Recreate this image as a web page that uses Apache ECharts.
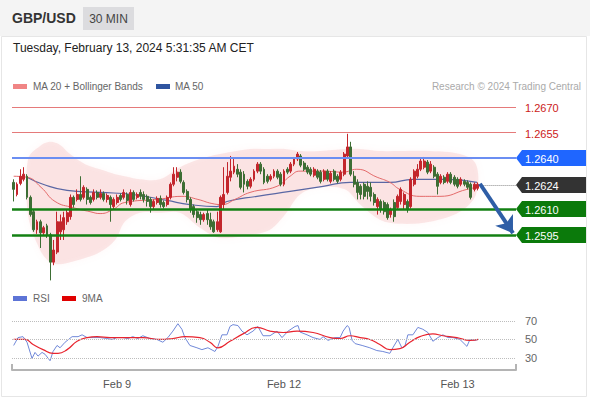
<!DOCTYPE html>
<html><head><meta charset="utf-8">
<script src="https://cdn.jsdelivr.net/npm/echarts@6/dist/echarts.min.js"></script>
<style>html,body{margin:0;padding:0;background:#fff;}#c{width:590px;height:400px;}</style>
</head><body><div id="c"></div>
<script>
// ---------- DATA ----------
const opens = [1.26258,1.26187,1.26252,1.26276,1.26294,1.26170,1.26086,1.25980,1.26027,1.25962,
1.26003,1.25950,1.25790,1.25849,1.25968,1.25980,1.26027,1.26057,1.26170,1.26158,
1.26187,1.26170,1.26217,1.26170,1.26158,1.26199,1.26170,1.26193,1.26158,1.26170,
1.26116,1.26140,1.26181,1.26170,1.26187,1.26128,1.26199,1.26170,1.26199,1.26187,
1.26176,1.26158,1.26116,1.26140,1.26164,1.26140,1.26128,1.26170,1.26247,1.26288,
1.26318,1.26258,1.26205,1.26158,1.26116,1.26086,1.26069,1.26039,1.26075,1.26039,
1.26027,1.25980,1.25968,1.26128,1.26199,1.26288,1.26318,1.26335,1.26318,1.26306,
1.26264,1.26235,1.26276,1.26324,1.26365,1.26335,1.26294,1.26276,1.26294,1.26324,
1.26306,1.26247,1.26335,1.26324,1.26365,1.26395,1.26413,1.26371,1.26347,1.26335,
1.26300,1.26324,1.26318,1.26276,1.26324,1.26264,1.26324,1.26294,1.26276,1.26306,
1.26413,1.26466,1.26294,1.26258,1.26235,1.26247,1.26235,1.26229,1.26187,1.26116,
1.26146,1.26140,1.26128,1.26069,1.26140,1.26110,1.26146,1.26128,1.26146,1.26116,
1.26247,1.26294,1.26335,1.26347,1.26377,1.26324,1.26347,1.26306,1.26258,1.26288,
1.26264,1.26306,1.26288,1.26276,1.26247,1.26264,1.26258,1.26247,1.26217,1.26223];
const closes = [1.26217,1.26247,1.26294,1.26306,1.26170,1.26069,1.25980,1.26027,1.25962,1.25992,
1.25950,1.25790,1.25861,1.26027,1.26027,1.26051,1.26080,1.26170,1.26128,1.26187,
1.26158,1.26229,1.26158,1.26140,1.26199,1.26170,1.26193,1.26158,1.26181,1.26128,
1.26158,1.26170,1.26158,1.26199,1.26152,1.26199,1.26158,1.26187,1.26176,1.26158,
1.26146,1.26116,1.26146,1.26164,1.26128,1.26116,1.26170,1.26247,1.26306,1.26318,
1.26264,1.26199,1.26158,1.26098,1.26069,1.26051,1.26039,1.26069,1.26039,1.25997,
1.25968,1.26027,1.26170,1.26187,1.26294,1.26324,1.26353,1.26306,1.26229,1.26247,
1.26235,1.26276,1.26324,1.26365,1.26324,1.26258,1.26264,1.26294,1.26324,1.26288,
1.26247,1.26324,1.26318,1.26365,1.26395,1.26424,1.26359,1.26335,1.26318,1.26306,
1.26335,1.26288,1.26264,1.26324,1.26276,1.26312,1.26276,1.26264,1.26318,1.26424,
1.26466,1.26306,1.26247,1.26199,1.26187,1.26176,1.26205,1.26176,1.26140,1.26158,
1.26098,1.26086,1.26051,1.26098,1.26057,1.26176,1.26217,1.26187,1.26098,1.26276,
1.26324,1.26335,1.26383,1.26383,1.26318,1.26365,1.26294,1.26235,1.26294,1.26258,
1.26306,1.26258,1.26247,1.26235,1.26276,1.26247,1.26229,1.26170,1.26247,1.26247];
const lows = [1.26146,1.26176,1.26241,1.26264,1.26158,1.26057,1.25968,1.25956,1.25873,1.25944,
1.25932,1.25683,1.25772,1.25837,1.25920,1.25920,1.26009,1.26039,1.26110,1.26146,
1.26146,1.26158,1.26128,1.26128,1.26146,1.26158,1.26158,1.26146,1.26140,1.26027,
1.26098,1.26128,1.26146,1.26158,1.26128,1.26116,1.26146,1.26158,1.26158,1.26140,
1.26116,1.26080,1.26098,1.26128,1.26110,1.26104,1.26116,1.26158,1.26235,1.26264,
1.26252,1.26187,1.26140,1.26080,1.26051,1.26021,1.26009,1.26027,1.26009,1.25980,
1.25962,1.25968,1.25962,1.26098,1.26187,1.26264,1.26306,1.26288,1.26217,1.26199,
1.26217,1.26223,1.26264,1.26312,1.26306,1.26247,1.26252,1.26264,1.26282,1.26276,
1.26235,1.26235,1.26306,1.26312,1.26353,1.26383,1.26347,1.26324,1.26306,1.26294,
1.26288,1.26276,1.26252,1.26264,1.26264,1.26252,1.26264,1.26252,1.26264,1.26294,
1.26401,1.26294,1.26229,1.26158,1.26158,1.26158,1.26158,1.26146,1.26122,1.26069,
1.26080,1.26069,1.26039,1.26051,1.26027,1.26098,1.26128,1.26098,1.26080,1.26104,
1.26235,1.26282,1.26324,1.26335,1.26306,1.26312,1.26282,1.26187,1.26247,1.26247,
1.26252,1.26247,1.26235,1.26223,1.26235,1.26235,1.26217,1.26158,1.26205,1.26211];
const highs = [1.26276,1.26258,1.26335,1.26347,1.26306,1.26181,1.26098,1.26039,1.26039,1.26003,
1.26015,1.25962,1.25920,1.26086,1.26069,1.26086,1.26098,1.26187,1.26181,1.26217,
1.26294,1.26241,1.26229,1.26181,1.26217,1.26211,1.26217,1.26205,1.26193,1.26181,
1.26170,1.26187,1.26193,1.26217,1.26199,1.26217,1.26211,1.26199,1.26217,1.26205,
1.26187,1.26170,1.26158,1.26176,1.26181,1.26152,1.26181,1.26258,1.26347,1.26347,
1.26335,1.26270,1.26217,1.26170,1.26128,1.26098,1.26086,1.26080,1.26098,1.26080,
1.26039,1.26086,1.26181,1.26347,1.26377,1.26413,1.26395,1.26365,1.26335,1.26324,
1.26276,1.26288,1.26335,1.26377,1.26377,1.26347,1.26306,1.26306,1.26335,1.26335,
1.26318,1.26335,1.26347,1.26377,1.26407,1.26436,1.26424,1.26383,1.26359,1.26347,
1.26347,1.26335,1.26330,1.26335,1.26335,1.26324,1.26335,1.26306,1.26330,1.26436,
1.26543,1.26496,1.26324,1.26276,1.26247,1.26258,1.26264,1.26258,1.26199,1.26170,
1.26158,1.26152,1.26140,1.26110,1.26158,1.26187,1.26229,1.26199,1.26158,1.26288,
1.26335,1.26365,1.26395,1.26407,1.26389,1.26383,1.26359,1.26318,1.26306,1.26300,
1.26318,1.26318,1.26300,1.26288,1.26288,1.26276,1.26270,1.26258,1.26258,1.26258];

const slotCount = 151;               // 30-min slots on the time axis (incl. empty future slots)
const tickIdx = [31, 81, 133];
const tickLabels = ['Feb 9', 'Feb 12', 'Feb 13'];

// moving averages [slot, price]
const ma20 = [[0,1.26294],[4,1.26288],[8.2,1.26229],[12.4,1.26146],[17.8,1.26110],[22.9,1.26086],[25.9,1.26075],
[29.7,1.26098],[33.3,1.26140],[43.2,1.26158],[50.4,1.26176],[55.2,1.26158],[59.4,1.26134],[62.4,1.26128],
[66.3,1.26158],[70.8,1.26199],[78.9,1.26235],[82.8,1.26294],[85.8,1.26324],[92.7,1.26324],[98.6,1.26318],
[102.8,1.26335],[108.9,1.26288],[112.7,1.26258],[115.7,1.26217],[121.7,1.26176],[127.7,1.26176],[135.8,1.26217],[138.8,1.26229]];
const ma50 = [[4,1.26288],[8.8,1.26247],[16,1.26211],[25.9,1.26199],[35.7,1.26187],[45.9,1.26152],[52.8,1.26128],
[60.9,1.26116],[63.9,1.26146],[72.9,1.26176],[82.8,1.26205],[92.7,1.26235],[100.8,1.26258],[112.7,1.26258],
[119.6,1.26276],[129.8,1.26276],[138.8,1.26258]];
// Bollinger bands
const bbIdx   = [4.3,7.9,10.9,13.9,16.9,21.4,25.9,30.4,33.3,37.8,43.8,49.8,55.8,61.8,70.8,76.8,81.3,85.8,91.8,99.2,103.8,109.7,115.7,124.7,133.7,138.5];
const bbUpper = [1.26395,1.26472,1.26496,1.26478,1.26424,1.26365,1.26335,1.26306,1.26294,1.26276,1.26276,1.26347,1.26395,1.26424,1.26454,1.26454,1.26454,1.26442,1.26442,1.26454,1.26454,1.26442,1.26442,1.26442,1.26424,1.26365];
const bbLower = [1.26069,1.25861,1.25790,1.25778,1.25790,1.25814,1.25849,1.25920,1.26027,1.26080,1.26080,1.26080,1.25992,1.25932,1.25950,1.25980,1.26069,1.26187,1.26229,1.26217,1.26128,1.26039,1.26015,1.26027,1.26086,1.26187];

// RSI and its 9-period MA [slot, value]
const rsi = [[0,43.5],[1.3,52],[2.8,53],[4,47],[5.5,29.5],[6.4,36],[7.3,32],[8.5,36],[9.4,34],[10.9,27],[11.8,37],[13,43.5],
[13.9,41],[15.4,47],[17.5,53],[19.3,53],[20.5,55],[22,52],[23.8,52],[25.9,52],[27.9,51],[29.5,50],[30.9,52],[32.7,52],
[34.2,51],[35.7,53],[37.2,51],[38.7,54],[40.8,51],[42.9,50],[44.7,47],[46.2,52],[47.7,59],[49.2,67],[50.4,61],[51.3,52],
[52.8,43.5],[54.9,41],[56.4,39],[58.2,41],[60.3,37],[61.2,42.5],[62.4,55],[63.9,55],[64.8,64],[65.7,66],[67.2,65],
[68.4,59],[69.9,55],[71.7,59],[73.2,64],[74.7,54],[76.8,54],[78.9,59],[80.4,52],[82.2,59],[84.3,64],[85.2,65],[85.8,58],
[87.9,55],[89.7,52],[91.8,50],[92.7,53],[94.2,49],[96.3,52],[97.8,52],[98.7,59],[99.9,65],[100.5,63],[101.4,49],
[102.3,45.5],[104.4,43.5],[106.7,41],[108.8,38],[110.6,37],[112.7,35],[113.6,41],[115.1,50],[116.3,41],[117.2,42.5],
[118.1,55],[119.6,55],[121.1,63],[122.6,61],[124.1,57.5],[125.6,48],[127.1,52],[128.6,55],[130.1,52],[131.6,52],
[133.7,50],[135.8,42.5],[136.7,50],[138.2,49],[139.2,50]];
const rsiMA = [[0,50],[3.4,50],[5.8,44.6],[8.8,39],[11.8,35],[13.3,35],[16,39],[19,48],[22,52],[25,53],[28.9,52],
[33.9,52],[38.7,52],[43.8,50],[47.7,51],[51.3,53],[55.8,52],[58.8,47],[61.2,41],[64.8,48],[68.7,56],[72.9,63],
[76.8,59],[80.7,57.5],[84.9,59],[89.7,57.5],[94.8,52],[97.8,51],[100.8,54],[103.8,52],[106.7,50],[109.7,44.6],
[112.7,39],[115.7,40],[118.7,47],[121.7,53],[125.6,56],[128.6,54],[132.8,52],[136.7,49],[139.2,50]];
const rsiLevels = [70, 50, 30];

// key levels
const resistances = [1.2670, 1.2655];
const pivot = 1.2640;
const lastPrice = 1.2624;
const supports = [1.2610, 1.2595];
const arrowFrom = [139.7, 1.2625];
const arrowTo = [149.6, 1.2596];

// ---------- CHART ----------
const FONT = '"Liberation Sans", Arial, sans-serif';
const UP = '#c3262c', DOWN = '#3d6e34';
const chart = echarts.init(document.getElementById('c'), null, {renderer: 'svg'});
const cats = Array.from({length: slotCount}, (_, i) => String(i));
const candles = opens.map((o, i) => [o, closes[i], lows[i], highs[i]]);
const X0 = -0.5, X1 = slotCount - 0.5;
function hline(v, style) {
  return [{coord: [X0, v], symbol: 'none', lineStyle: style}, {coord: [X1, v], symbol: 'none'}];
}

const option = {
  animation: false,
  textStyle: {fontFamily: FONT},
  grid: [
    {left: 12, right: 74, top: 90, height: 196},
    {left: 12, right: 74, top: 295, height: 75}
  ],
  xAxis: [
    {type: 'category', gridIndex: 0, data: cats, show: false, boundaryGap: true},
    {type: 'value', gridIndex: 0, min: X0, max: X1, show: false},
    {type: 'value', gridIndex: 1, min: X0, max: X1,
      axisLine: {show: true, lineStyle: {color: '#b4b4b4', width: 2}},
      axisTick: {show: true, inside: true, length: 6, customValues: [X0, X1], lineStyle: {color: '#b4b4b4', width: 2}},
      axisLabel: {customValues: tickIdx, formatter: v => tickLabels[tickIdx.indexOf(v)] || '', color: '#555', fontSize: 11, margin: 8, fontFamily: FONT},
      splitLine: {show: false}}
  ],
  yAxis: [
    {type: 'value', gridIndex: 0, min: 1.2565, max: 1.2680, show: false},
    {type: 'value', gridIndex: 1, min: 17, max: 98, show: false}
  ],
  series: [
    {
      type: 'custom', xAxisIndex: 1, yAxisIndex: 0, clip: false, silent: true, z: 1,
      data: [[bbIdx[0], bbUpper[0]]],
      encode: {x: 0, y: 1},
      renderItem: function (params, api) {
        const up = bbIdx.map((x, i) => api.coord([x, bbUpper[i]]));
        const lo = bbIdx.map((x, i) => api.coord([x, bbLower[i]])).reverse();
        return {type: 'polygon', shape: {points: up.concat(lo), smooth: 0.35},
          style: {fill: 'rgba(245,170,170,0.26)', shadowBlur: 6, shadowColor: 'rgba(245,170,170,0.4)'}};
      }
    },
    {type: 'line', xAxisIndex: 1, yAxisIndex: 0, data: ma50, smooth: true, symbol: 'none', z: 2,
      lineStyle: {color: '#5a67a4', width: 1.2}},
    {type: 'line', xAxisIndex: 1, yAxisIndex: 0, data: ma20, smooth: true, symbol: 'none', z: 2,
      lineStyle: {color: '#e36a6a', width: 1}},
    {
      type: 'candlestick', xAxisIndex: 0, yAxisIndex: 0, data: candles, barWidth: 2.4, z: 3,
      itemStyle: {color: UP, color0: DOWN, borderColor: UP, borderColor0: DOWN, borderWidth: 1}
    },
    {
      type: 'line', xAxisIndex: 1, yAxisIndex: 0, data: [arrowFrom, arrowTo], symbol: 'none',
      lineStyle: {opacity: 0}, z: 5,
      markLine: {
        silent: true, label: {show: false}, z: 6, symbol: 'none',
        data: [
          hline(resistances[0], {color: '#e57a7a', width: 1, type: 'solid'}),
          hline(resistances[1], {color: '#e57a7a', width: 1, type: 'solid'}),
          hline(pivot, {color: '#6b8ef2', width: 2, type: 'solid'}),
          hline(supports[0], {color: '#138013', width: 2.5, type: 'solid'}),
          hline(supports[1], {color: '#138013', width: 2.5, type: 'solid'}),
          [{coord: [140.5, lastPrice], symbol: 'none', lineStyle: {color: '#8a8a8a', width: 1, type: 'dotted'}},
           {coord: [X1, lastPrice], symbol: 'none'}],
          [{coord: arrowFrom, symbol: 'none', lineStyle: {color: '#2f5ea6', width: 4, type: 'solid'}},
           {coord: arrowTo, symbol: 'arrow', symbolSize: 16}]
        ]
      }
    },
    {type: 'line', xAxisIndex: 2, yAxisIndex: 1, data: rsi, symbol: 'none', z: 2,
      lineStyle: {color: '#7088d8', width: 1},
      markLine: {
        silent: true, symbol: 'none',
        lineStyle: {color: '#bdbdbd', width: 1, type: 'dotted'},
        label: {show: true, position: 'end', distance: 9, color: '#666', fontSize: 11, fontFamily: FONT, formatter: p => String(p.value)},
        data: rsiLevels.map(v => ({yAxis: v}))
      }},
    {type: 'line', xAxisIndex: 2, yAxisIndex: 1, data: rsiMA, smooth: true, symbol: 'none', z: 3,
      lineStyle: {color: '#e8242e', width: 1.2}}
  ],
  graphic: [
    {type: 'rect', shape: {x: 0, y: 0, width: 590, height: 36}, style: {fill: '#f4f4f4'}, z: -1},
    {type: 'rect', shape: {x: 1.5, y: 36.5, width: 585, height: 360}, style: {fill: 'none', stroke: '#e6e6e6', lineWidth: 1}, z: -1},
    {type: 'text', x: 12, y: 18, style: {text: 'GBP/USD', fontSize: 14, fontWeight: 'bold', fontFamily: FONT, fill: '#333', verticalAlign: 'middle'}},
    {type: 'rect', shape: {x: 83, y: 7, width: 51, height: 23}, style: {fill: '#dcdcdf'}},
    {type: 'text', x: 108.5, y: 18.5, style: {text: '30 MIN', fontSize: 12, fontFamily: FONT, fill: '#444', align: 'center', verticalAlign: 'middle'}},
    {type: 'text', x: 13, y: 48, style: {text: 'Tuesday, February 13, 2024 5:31:35 AM CET', fontSize: 12, fontFamily: FONT, fill: '#222', verticalAlign: 'middle'}},
    {type: 'rect', shape: {x: 13, y: 84, width: 14, height: 5}, style: {fill: '#f08585'}},
    {type: 'text', x: 33, y: 86.5, style: {text: 'MA 20 + Bollinger Bands', fontSize: 10, fontFamily: FONT, fill: '#666', verticalAlign: 'middle'}},
    {type: 'rect', shape: {x: 156, y: 84, width: 14, height: 5}, style: {fill: '#2f55a0'}},
    {type: 'text', x: 175, y: 86.5, style: {text: 'MA 50', fontSize: 10, fontFamily: FONT, fill: '#666', verticalAlign: 'middle'}},
    {type: 'text', x: 581, y: 86.5, style: {text: 'Research © 2024 Trading Central', fontSize: 10, fontFamily: FONT, fill: '#aaa', align: 'right', verticalAlign: 'middle'}},
    {type: 'rect', shape: {x: 13, y: 296, width: 14, height: 5}, style: {fill: '#5d74d6'}},
    {type: 'text', x: 33, y: 298.5, style: {text: 'RSI', fontSize: 10, fontFamily: FONT, fill: '#666', verticalAlign: 'middle'}},
    {type: 'rect', shape: {x: 62, y: 296, width: 14, height: 5}, style: {fill: '#e00000'}},
    {type: 'text', x: 82, y: 298.5, style: {text: '9MA', fontSize: 10, fontFamily: FONT, fill: '#666', verticalAlign: 'middle'}}
  ]
};
chart.setOption(option);

// price tags at the right of the level lines
const right = chart.convertToPixel({xAxisIndex: 1}, X1);
function tag(value, color, boxed) {
  const y = Math.round(chart.convertToPixel({yAxisIndex: 0}, value));
  const txt = {type: 'text', x: right + 9, y: y + 0.5,
    style: {text: value.toFixed(4), fontSize: 11, fontFamily: FONT, fill: boxed ? '#fff' : color, verticalAlign: 'middle'}, z: 20};
  if (!boxed) return [txt];
  return [{type: 'polygon', shape: {points: [[right, y], [right + 6, y - 8], [586, y - 8], [586, y + 8], [right + 6, y + 8]]},
    style: {fill: color}, z: 19}, txt];
}
const tags = [].concat(
  tag(resistances[0], '#cc1a1a', false),
  tag(resistances[1], '#cc1a1a', false),
  tag(pivot, '#1f66ff', true),
  tag(lastPrice, '#333333', true),
  tag(supports[0], '#0b7a0b', true),
  tag(supports[1], '#0b7a0b', true)
);
chart.setOption({graphic: option.graphic.concat(tags)});
</script></body></html>
